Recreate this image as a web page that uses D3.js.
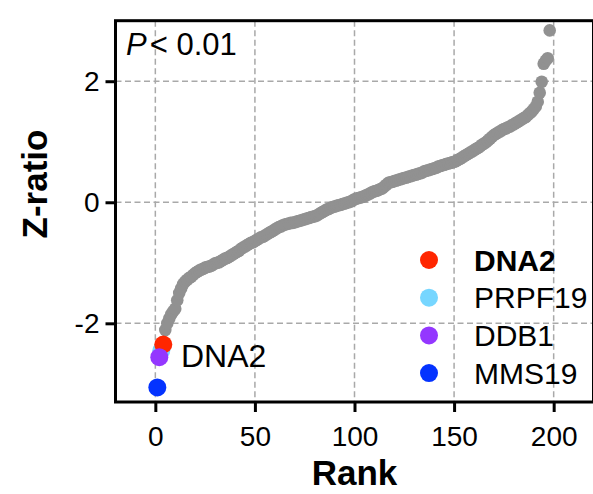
<!DOCTYPE html>
<html>
<head>
<meta charset="utf-8">
<script src="https://cdn.jsdelivr.net/npm/d3@7"></script>
<style>
  html, body { margin: 0; padding: 0; background: #fff; }
  svg { display: block; font-family: "Liberation Sans", Arial, sans-serif; }
</style>
</head>
<body>
<svg id="chart" width="593" height="494"></svg>
<script>
// ---- Data ----
// Gray (non-highlighted) genes: Z-ratio values for ranks 5..198
const grayStartRank = 5;
const grayZ = [
  -2.11, -2.00, -1.92, -1.85, -1.80, -1.76, -1.62, -1.50, -1.42, -1.35,
  -1.31, -1.28, -1.25, -1.23, -1.20, -1.17, -1.15, -1.13, -1.11, -1.10,
  -1.08, -1.07, -1.06, -1.05, -1.03, -1.01, -1.00, -0.99, -0.97, -0.95,
  -0.93, -0.92, -0.90, -0.88, -0.86, -0.84, -0.82, -0.80, -0.77, -0.75,
  -0.73, -0.71, -0.69, -0.67, -0.66, -0.64, -0.62, -0.60, -0.58, -0.57,
  -0.55, -0.53, -0.51, -0.49, -0.47, -0.45, -0.43, -0.41, -0.40, -0.38,
  -0.37, -0.36, -0.35, -0.34, -0.34, -0.33, -0.32, -0.31, -0.30, -0.29,
  -0.28, -0.27, -0.26, -0.25, -0.24, -0.23, -0.22, -0.20, -0.18, -0.16,
  -0.14, -0.12, -0.11, -0.09, -0.08, -0.07, -0.06, -0.05, -0.04, -0.03,
  -0.02, -0.01, 0.00, 0.01, 0.03, 0.05, 0.06, 0.07, 0.08, 0.09,
  0.10, 0.12, 0.13, 0.15, 0.17, 0.18, 0.19, 0.20, 0.22, 0.23,
  0.26, 0.29, 0.32, 0.33, 0.34, 0.35, 0.36, 0.37, 0.38, 0.39,
  0.40, 0.41, 0.42, 0.43, 0.44, 0.45, 0.46, 0.47, 0.48, 0.49,
  0.51, 0.52, 0.53, 0.54, 0.55, 0.56, 0.57, 0.59, 0.60, 0.61,
  0.62, 0.63, 0.64, 0.65, 0.66, 0.67, 0.68, 0.70, 0.72, 0.74,
  0.76, 0.78, 0.80, 0.82, 0.84, 0.86, 0.88, 0.90, 0.92, 0.95,
  0.97, 0.99, 1.02, 1.05, 1.08, 1.11, 1.13, 1.15, 1.17, 1.19,
  1.21, 1.22, 1.24, 1.25, 1.27, 1.29, 1.31, 1.33, 1.35, 1.37,
  1.39, 1.41, 1.44, 1.47, 1.50, 1.54, 1.58, 1.66, 1.81, 1.99,
  2.29, 2.34, 2.38, 2.84
];

// Highlighted genes (drawing order: bottom to top)
const hiNames = ["PRPF19", "DNA2", "DDB1", "MMS19"];
const hiRanks = [3, 4, 2, 1];
const hiZ     = [-2.45, -2.35, -2.56, -3.06];
const hiColors = ["#76d6ff", "#ff2600", "#9437ff", "#0433ff"];

// Legend order
const legendNames  = ["DNA2", "PRPF19", "DDB1", "MMS19"];
const legendColors = ["#ff2600", "#76d6ff", "#9437ff", "#0433ff"];

const xTicks = [0, 50, 100, 150, 200];
const yTicks = [-2, 0, 2];
const yTickLabels = ["-2", "0", "2"];

// ---- Layout ----
const svg = d3.select("#chart");
const L = 115.5, R = 593.5, T = 20.7, B = 402;
const x = d3.scaleLinear().domain([-20, 220]).range([L, R]);
const y = d3.scaleLinear().domain([-3.3, 3.0]).range([B, T]);

// Grid
const grid = svg.append("g").attr("stroke", "#a9a9a9").attr("stroke-width", 1.5)
  .attr("stroke-dasharray", "6,3.5");
grid.selectAll("line.gx").data(xTicks).join("line")
  .attr("x1", d => x(d)).attr("x2", d => x(d)).attr("y1", T).attr("y2", B);
grid.selectAll("line.gy").data(yTicks).join("line")
  .attr("y1", d => y(d)).attr("y2", d => y(d)).attr("x1", L).attr("x2", R);

// Gray points
const grayData = grayZ.map((z, i) => ({ rank: grayStartRank + i, z }));
svg.append("g").selectAll("circle").data(grayData).join("circle")
  .attr("cx", d => x(d.rank)).attr("cy", d => y(d.z)).attr("r", 6.3)
  .attr("fill", "#919191");

// Highlighted points
const hiData = hiNames.map((n, i) => ({ name: n, rank: hiRanks[i], z: hiZ[i], color: hiColors[i] }));
svg.append("g").selectAll("circle").data(hiData).join("circle")
  .attr("cx", d => x(d.rank)).attr("cy", d => y(d.z)).attr("r", 9)
  .attr("fill", d => d.color);

// Axes
const fontSize = 28;
const xAxis = svg.append("g").attr("transform", `translate(0,${B})`)
  .call(d3.axisBottom(x).tickValues(xTicks).tickFormat(d => String(d))
    .tickSize(10).tickPadding(14).tickSizeOuter(0));
const yAxis = svg.append("g").attr("transform", `translate(${L},0)`)
  .call(d3.axisLeft(y).tickValues(yTicks).tickFormat((d, i) => yTickLabels[i])
    .tickSize(10).tickPadding(6).tickSizeOuter(0));
[xAxis, yAxis].forEach(a => {
  a.select(".domain").remove();
  a.selectAll(".tick line").attr("stroke", "#000").attr("stroke-width", 3);
  a.selectAll(".tick text").attr("fill", "#000")
    .style("font-family", '"Liberation Sans", Arial, sans-serif')
    .style("font-size", fontSize + "px");
});

// Frame
svg.append("rect").attr("x", L).attr("y", T).attr("width", R - L).attr("height", B - T)
  .attr("fill", "none").attr("stroke", "#000").attr("stroke-width", 3);

// Axis titles
svg.append("text").attr("x", (x(0) + x(200)) / 2).attr("y", 485)
  .attr("text-anchor", "middle").attr("font-weight", "bold").attr("font-size", 35)
  .text("Rank");
svg.append("text").attr("transform", "translate(47,184) rotate(-90)")
  .attr("text-anchor", "middle").attr("font-weight", "bold").attr("font-size", 35)
  .text("Z-ratio");

// P-value annotation
const pt = svg.append("text").attr("x", 126).attr("y", 55).attr("font-size", 31);
pt.append("tspan").attr("font-style", "italic").text("P");
pt.append("tspan").attr("dx", 3).text("< 0.01");

// Point annotation
svg.append("text").attr("x", 181).attr("y", 367).attr("font-size", 32).text("DNA2");

// Legend
const lg = svg.append("g");
legendNames.forEach((n, i) => {
  const cy = 260 + i * 37.7;
  lg.append("circle").attr("cx", 429).attr("cy", cy).attr("r", 9).attr("fill", legendColors[i]);
  lg.append("text").attr("x", 474).attr("y", cy + 10.5).attr("font-size", 30)
    .attr("font-weight", i === 0 ? "bold" : "normal").text(n);
});
</script>
</body>
</html>
